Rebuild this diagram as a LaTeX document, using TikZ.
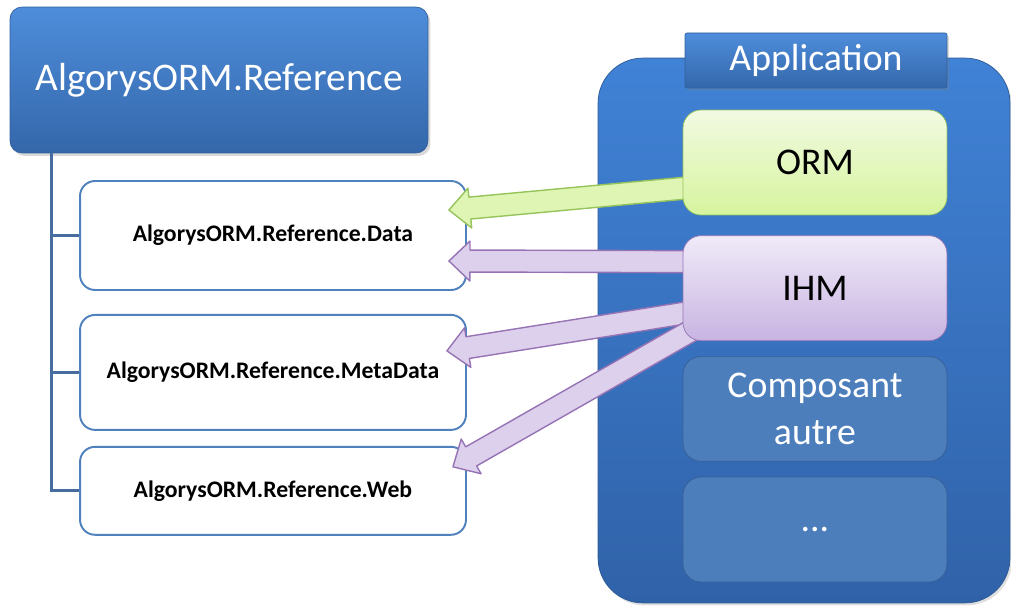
\documentclass[tikz,border=0pt]{standalone}
\usepackage{fontspec}
\setmainfont{Carlito}
\usepackage{tikz}
\usetikzlibrary{arrows.meta,positioning,calc,shadows}
\definecolor{reftop}{RGB}{78,141,219}
\definecolor{refbot}{RGB}{52,103,170}
\definecolor{refborder}{RGB}{50,95,155}
\definecolor{subblue}{RGB}{79,129,189}
\definecolor{treeblue}{RGB}{70,108,160}
\definecolor{apptop}{RGB}{64,130,214}
\definecolor{appbot}{RGB}{48,98,168}
\definecolor{appborder}{RGB}{45,90,150}
\definecolor{ormtop}{RGB}{242,250,226}
\definecolor{ormbot}{RGB}{214,244,158}
\definecolor{ormborder}{RGB}{150,195,90}
\definecolor{ihmtop}{RGB}{240,234,248}
\definecolor{ihmbot}{RGB}{200,180,226}
\definecolor{ihmborder}{RGB}{150,115,180}
\definecolor{othfill}{RGB}{76,126,188}
\definecolor{othborder}{RGB}{55,95,150}
\definecolor{greenfill}{RGB}{222,245,180}
\definecolor{purplefill}{RGB}{220,208,236}

\pgfdeclarelayer{front}
\pgfsetlayers{main,front}

% block arrow: style, start, tip
\newcommand{\blockarrow}[3]{%
  \draw[#1] ($(#2)!0.22cm!90:(#3)$) -- ($($(#3)!0.42cm!(#2)$)!0.22cm!90:(#3)$)
    -- ($($(#3)!0.42cm!(#2)$)!0.4cm!90:(#3)$) -- (#3)
    -- ($($(#3)!0.42cm!(#2)$)!0.4cm!-90:(#3)$)
    -- ($($(#3)!0.42cm!(#2)$)!0.22cm!-90:(#3)$)
    -- ($(#2)!0.22cm!-90:(#3)$) -- cycle;}

\begin{document}
\begin{tikzpicture}[
    x=0.02cm, y=-0.02cm,
    refbox/.style={rectangle, rounded corners=0.24cm, draw=refborder, top color=reftop, bottom color=refbot,
        text=white, font=\fontsize{22.3}{26}\selectfont, minimum width=8.36cm, minimum height=2.92cm,
        drop shadow={opacity=0.3, shadow xshift=0.05cm, shadow yshift=-0.06cm}},
    subbox/.style={rectangle, rounded corners=0.3cm, draw=subblue, line width=1.1pt, fill=white,
        minimum width=7.72cm, font=\bfseries\fontsize{13.5}{16}\selectfont},
    tree/.style={line width=1.6pt, treeblue},
    appbox/.style={rectangle, rounded corners=0.9cm, draw=appborder, top color=apptop, bottom color=appbot,
        minimum width=8.24cm, minimum height=10.9cm,
        drop shadow={opacity=0.25, shadow xshift=0.04cm, shadow yshift=-0.05cm}},
    apptitle/.style={rectangle, rounded corners=0.04cm, draw=refborder, top color=reftop, bottom color=refbot,
        text=white, font=\fontsize{21.5}{24}\selectfont, minimum width=5.24cm, minimum height=1.1cm,
        drop shadow={opacity=0.3, shadow xshift=0.04cm, shadow yshift=-0.05cm}},
    comp/.style={rectangle, rounded corners=0.36cm, minimum width=5.28cm, minimum height=2.1cm,
        align=center, font=\fontsize{21.5}{26.5}\selectfont},
    ormcomp/.style={comp, top color=ormtop, bottom color=ormbot, draw=ormborder},
    ihmcomp/.style={comp, top color=ihmtop, bottom color=ihmbot, draw=ihmborder},
    othercomp/.style={comp, fill=othfill, draw=othborder, text=white},
    greenarrow/.style={fill=greenfill, draw=ormborder, line width=0.8pt, line join=round},
    purplearrow/.style={fill=purplefill, draw=ihmborder, line width=0.8pt, line join=round}
]
\useasboundingbox (0,0) rectangle (1011,607);

% ============ Reference tree ============
\node[refbox] (ref) at (219,80) {AlgorysORM.Reference};

\node[subbox, minimum height=2.18cm] (data) at (273,235.5) {AlgorysORM.Reference.Data};
\node[subbox, minimum height=2.3cm, below=0.46cm of data] (meta) {AlgorysORM.Reference.MetaData};
\node[subbox, minimum height=1.76cm, below=0.3cm of meta] (web) {AlgorysORM.Reference.Web};

\coordinate (trunk) at ($(ref.south west)+(42,0)$);
\draw[tree] (trunk) |- (web.west);
\draw[tree] (trunk |- data.west) -- (data.west);
\draw[tree] (trunk |- meta.west) -- (meta.west);

% ============ Application ============
\node[appbox] (app) at (804,330.5) {};
\node[apptitle] (app-title) at (816,60.5) {Application};

\begin{pgfonlayer}{front}
\node[ormcomp] (orm) at (815,162.5) {ORM};
\node[ihmcomp, below=0.4cm of orm] (ihm) {IHM};
\node[othercomp, below=0.3cm of ihm] (autre) {Composant\\autre};
\node[othercomp, below=0.3cm of autre] (etc) {...};
\end{pgfonlayer}

% ============ Arrows ============
\coordinate (orm-out) at ($(orm.west)+(20,24)$);
\coordinate (ihm-out1) at ($(ihm.west)+(20,-26.5)$);
\coordinate (ihm-out2) at ($(ihm.west)+(20,22)$);
\coordinate (ihm-out3) at ($(ihm.south west)+(22,-18)$);
\coordinate (data-in1) at ($(data.east)+(-18,-25.5)$);
\coordinate (data-in2) at ($(data.east)+(-18,25.5)$);
\coordinate (meta-in) at ($(meta.east)+(-20,-21.5)$);
\coordinate (web-in) at ($(web.east)+(-14,-24)$);

\blockarrow{greenarrow}{orm-out}{data-in1}
\blockarrow{purplearrow}{ihm-out1}{data-in2}
\blockarrow{purplearrow}{ihm-out2}{meta-in}
\blockarrow{purplearrow}{ihm-out3}{web-in}

\end{tikzpicture}
\end{document}
